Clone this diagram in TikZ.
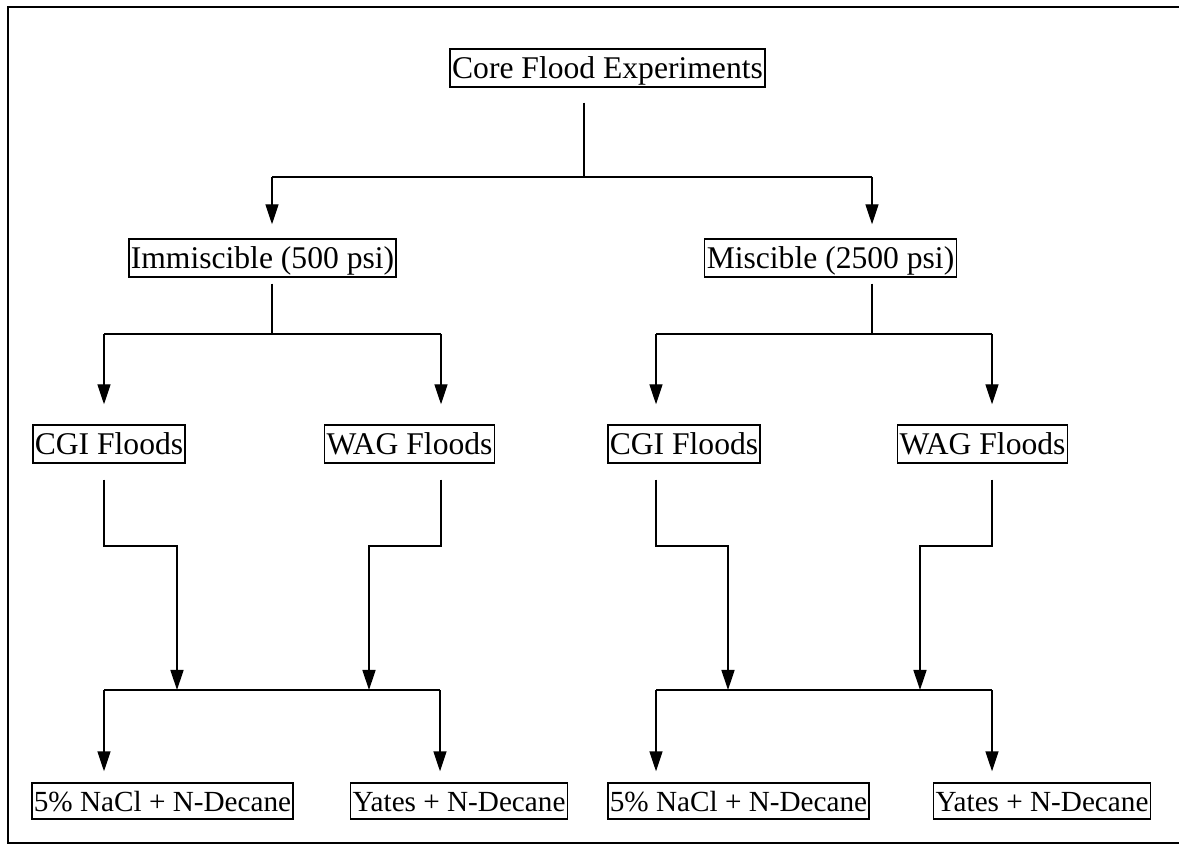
\documentclass[tikz,border=0pt]{standalone}
\usepackage{fontspec}
\setmainfont{Liberation Serif}
\usetikzlibrary{arrows.meta}

\begin{document}
\begin{tikzpicture}[
		x=0.5pt, y=-0.5pt,
		>={Triangle[length=10pt, width=6.5pt]}, line width=0.7pt,
		box/.style={draw, font=\fontsize{15.8}{19}\selectfont, inner xsep=1pt, inner ysep=0pt, text height=15pt, text depth=4pt},
		leaf/.style={box, font=\fontsize{14.6}{17.5}\selectfont, text height=14pt, text depth=4pt},
		link/.style={-},
		flow/.style={->},
		frame/.style={line width=1pt}
		]
		
		\useasboundingbox (0,0) rectangle (1179,844);
		\draw[frame] (1179,7) -- (8,7) -- (8,843) -- (1179,843);
		
		% --- Root ---
		\node[box] (core) at (607.5,68) {Core Flood Experiments};
		\coordinate (fork0) at (584,177);
		\coordinate (barL) at (272,177);
		\coordinate (barR) at (872,177);
		
		\draw[link, shorten <=7.5pt] (core.south -| fork0) -- (fork0);
		\draw[link] (barL) -- (barR);
		
		% --- Pressure level ---
		\node[box] (imm) at (262.5,258) {Immiscible (500 psi)};
		\node[box] (mis) at (830.5,258) {Miscible (2500 psi)};
		
		\draw[flow, shorten >=7pt] (barL) -- (barL |- imm.north);
		\draw[flow, shorten >=7pt] (barR) -- (barR |- mis.north);
		
		\coordinate (forkI) at (272,334);
		\coordinate (forkM) at (872,334);
		\draw[link, shorten <=3pt] (imm.south -| forkI) -- (forkI);
		\draw[link, shorten <=3pt] (mis.south -| forkM) -- (forkM);
		
		% --- Flood type level ---
		\node[box] (cgiI) at (109,444) {CGI Floods};
		\node[box] (wagI) at (409.5,444) {WAG Floods};
		\node[box] (cgiM) at (684,444) {CGI Floods};
		\node[box] (wagM) at (982.5,444) {WAG Floods};
		
		\coordinate (splitIa) at (104,334);
		\coordinate (splitIb) at (441,334);
		\coordinate (splitMa) at (656,334);
		\coordinate (splitMb) at (992,334);
		
		\draw[link] (splitIa) -- (splitIb);
		\draw[link] (splitMa) -- (splitMb);
		\draw[flow, shorten >=10pt] (splitIa) -- (splitIa |- cgiI.north);
		\draw[flow, shorten >=10pt] (splitIb) -- (splitIb |- wagI.north);
		\draw[flow, shorten >=10pt] (splitMa) -- (splitMa |- cgiM.north);
		\draw[flow, shorten >=10pt] (splitMb) -- (splitMb |- wagM.north);
		
		% --- Merge into fluids ---
		\coordinate (kneeIa) at (177,546);
		\coordinate (kneeIb) at (369,546);
		\coordinate (kneeMa) at (728,546);
		\coordinate (kneeMb) at (920,546);
		\coordinate (joinIa) at (104,690);
		\coordinate (joinIb) at (440,690);
		\coordinate (joinMa) at (656,690);
		\coordinate (joinMb) at (992,690);
		
		\draw[flow, shorten <=8pt] (splitIa |- cgiI.south) |- (kneeIa) -- (kneeIa |- joinIa);
		\draw[flow, shorten <=8pt] (splitIb |- wagI.south) |- (kneeIb) -- (kneeIb |- joinIa);
		\draw[flow, shorten <=8pt] (splitMa |- cgiM.south) |- (kneeMa) -- (kneeMa |- joinMa);
		\draw[flow, shorten <=8pt] (splitMb |- wagM.south) |- (kneeMb) -- (kneeMb |- joinMa);
		
		\draw[link] (joinIa) -- (joinIb);
		\draw[link] (joinMa) -- (joinMb);
		
		% --- Fluid level ---
		\node[leaf] (brineI) at (162.5,801) {5\% NaCl + N-Decane};
		\node[leaf] (yatesI) at (459,801) {Yates + N-Decane};
		\node[leaf] (brineM) at (738.5,801) {5\% NaCl + N-Decane};
		\node[leaf] (yatesM) at (1042,801) {Yates + N-Decane};
		
		\draw[flow, shorten >=5.5pt] (joinIa) -- (joinIa |- brineI.north);
		\draw[flow, shorten >=5.5pt] (joinIb) -- (joinIb |- yatesI.north);
		\draw[flow, shorten >=5.5pt] (joinMa) -- (joinMa |- brineM.north);
		\draw[flow, shorten >=5.5pt] (joinMb) -- (joinMb |- yatesM.north);
		
	\end{tikzpicture}
\end{document}
